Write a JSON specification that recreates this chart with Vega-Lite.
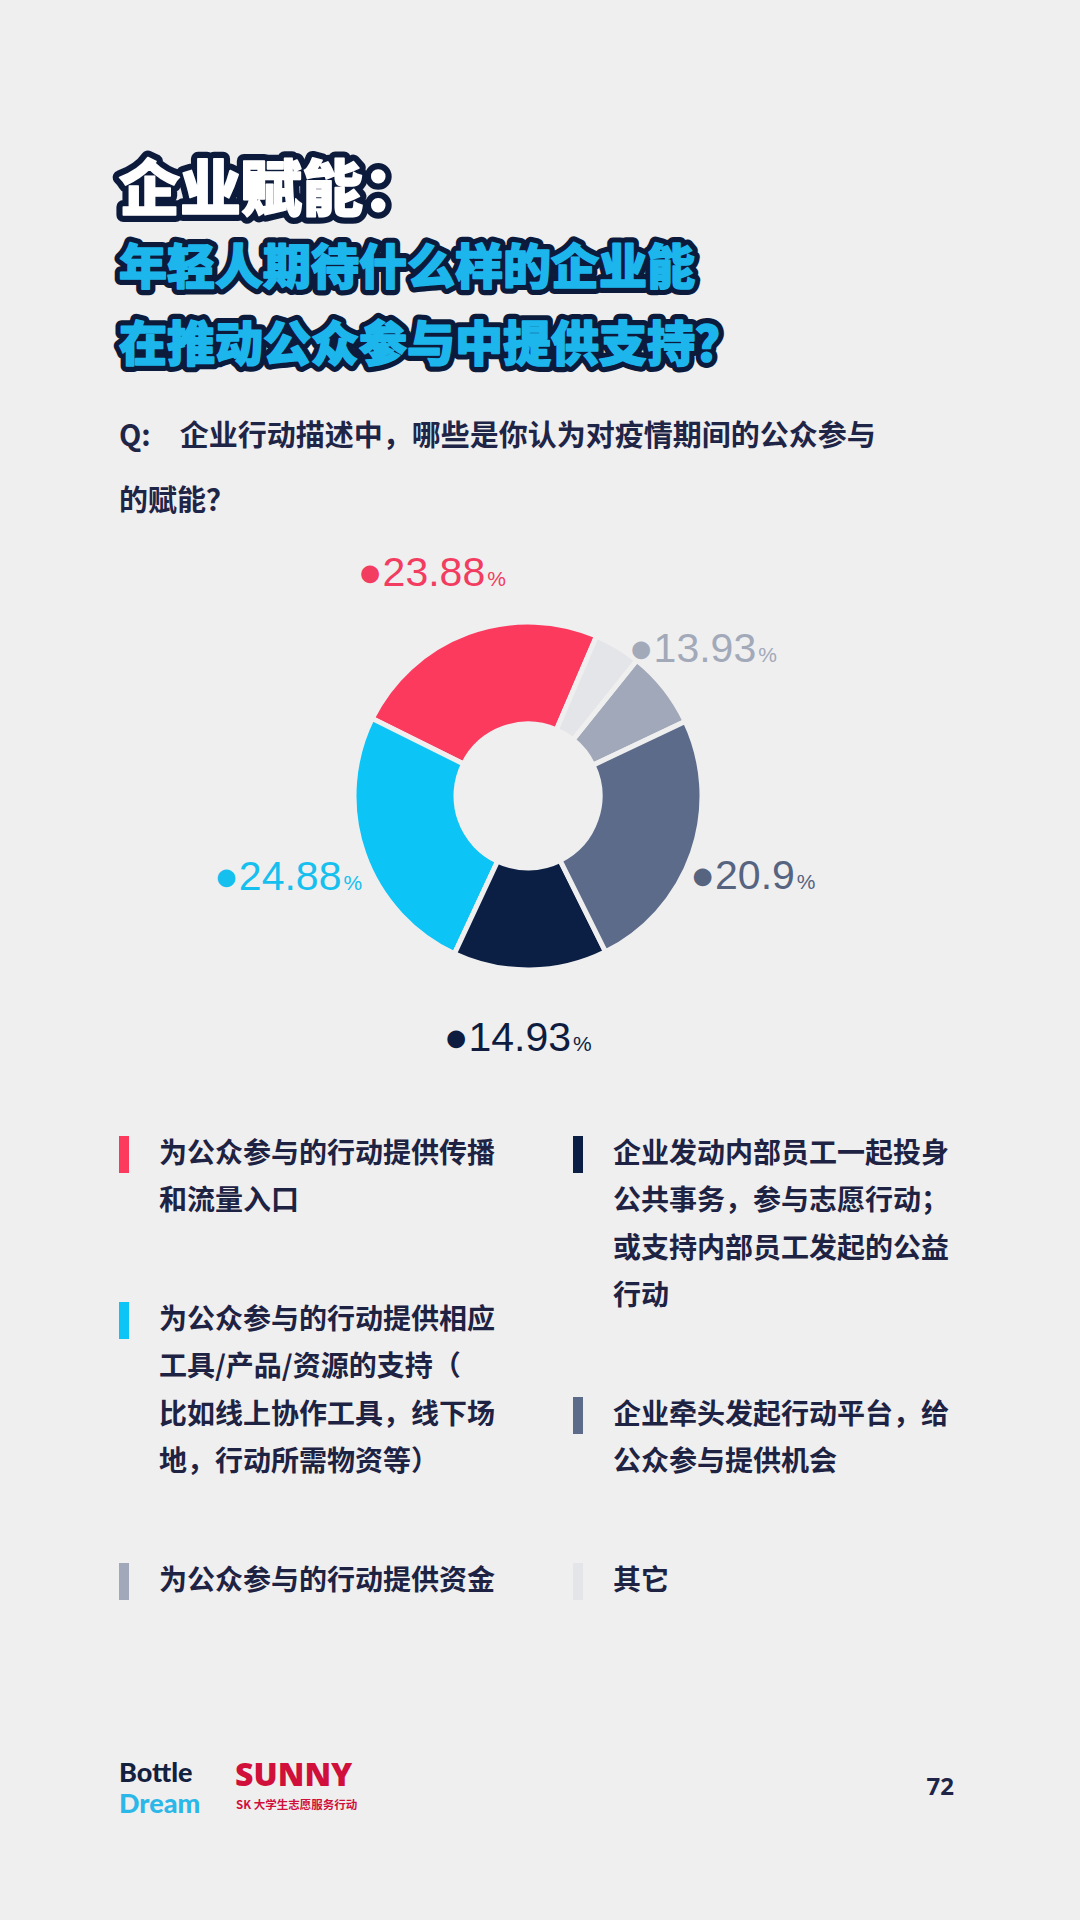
{
  "$schema": "https://vega.github.io/schema/vega-lite/v6.json",
  "width": 818,
  "height": 1592,
  "autosize": {"type": "none"},
  "padding": {"left": 119, "top": 0, "right": 143, "bottom": 328},
  "background": "#EFEFF0",
  "config": {
    "view": {"stroke": null},
    "style": {"guide-label": {"lineHeight": 47.5}},
    "locale": {"number": {"decimal": ".", "thousands": ",", "grouping": [3], "currency": ["●", ""]}}
  },
  "datasets": {
    "slices": [
      {"cat": "为公众参与的行动提供传播和流量入口", "share": 24.1, "pct": 23.88},
      {"cat": "为公众参与的行动提供相应工具/产品/资源的支持（比如线上协作工具，线下场地，行动所需物资等）", "share": 25.4, "pct": 24.88},
      {"cat": "企业发动内部员工一起投身公共事务，参与志愿行动；或支持内部员工发起的公益行动", "share": 14.3, "pct": 14.93},
      {"cat": "企业牵头发起行动平台，给公众参与提供机会", "share": 24.7, "pct": 20.9},
      {"cat": "为公众参与的行动提供资金", "share": 7.2, "pct": 13.93},
      {"cat": "其它", "share": 4.3, "pct": null}
    ],
    "headline": [
      {"line": 1, "level": "h1", "text": "企业赋能："},
      {"line": 2, "level": "h2", "text": "年轻人期待什么样的企业能"},
      {"line": 3, "level": "h2", "text": "在推动公众参与中提供支持？"}
    ],
    "question": [
      {"line": 1, "text": "Q:　企业行动描述中，哪些是你认为对疫情期间的公众参与"},
      {"line": 2, "text": "的赋能？"}
    ]
  },
  "layer": [
    {
      "data": {"name": "headline"},
      "mark": {"type": "text", "font": "Noto Sans CJK SC", "fontWeight": 900, "align": "left", "baseline": "middle", "x": 0, "fill": "#0C1B3C", "stroke": "#0C1B3C", "strokeJoin": "round"},
      "encoding": {
        "y": {"field": "line", "type": "ordinal", "scale": {"type": "point", "range": [193, 347], "padding": 0}, "axis": null},
        "text": {"field": "text"},
        "size": {"field": "level", "type": "ordinal", "scale": {"domain": ["h1", "h2"], "range": [61, 48]}, "legend": null},
        "strokeWidth": {"field": "level", "type": "ordinal", "scale": {"domain": ["h1", "h2"], "range": [14, 12]}, "legend": null}
      }
    },
    {
      "data": {"name": "headline"},
      "mark": {"type": "text", "font": "Noto Sans CJK SC", "fontWeight": 900, "align": "left", "baseline": "middle", "x": 0, "strokeWidth": 1.6, "strokeJoin": "round"},
      "encoding": {
        "y": {"field": "line", "type": "ordinal", "scale": {"type": "point", "range": [193, 347], "padding": 0}, "axis": null},
        "text": {"field": "text"},
        "size": {"field": "level", "type": "ordinal", "scale": {"domain": ["h1", "h2"], "range": [61, 48]}, "legend": null},
        "color": {"field": "level", "type": "nominal", "scale": {"domain": ["h1", "h2"], "range": ["#FFFFFF", "#1DB6EC"]}, "legend": null},
        "stroke": {"field": "level", "type": "nominal", "scale": {"domain": ["h1", "h2"], "range": ["#FFFFFF", "#1DB6EC"]}, "legend": null}
      }
    },
    {
      "data": {"name": "question"},
      "mark": {"type": "text", "font": "Noto Sans CJK SC", "fontWeight": "bold", "fontSize": 29, "align": "left", "baseline": "middle", "x": 0, "fill": "#1F2547"},
      "encoding": {
        "y": {"field": "line", "type": "ordinal", "scale": {"type": "point", "range": [437, 502], "padding": 0}, "axis": null},
        "text": {"field": "text"}
      }
    },
    {
      "data": {"name": "slices"},
      "transform": [
        {"window": [{"op": "row_number", "as": "idx"}]},
        {"stack": "share", "groupby": [], "sort": [{"field": "idx", "order": "ascending"}], "as": ["s0", "s1"]}
      ],
      "layer": [
        {
          "transform": [{"filter": {"field": "cat", "oneOf": ["为公众参与的行动提供传播和流量入口", "为公众参与的行动提供相应工具/产品/资源的支持（比如线上协作工具，线下场地，行动所需物资等）", "为公众参与的行动提供资金"]}}],
          "mark": {"type": "arc", "innerRadius": 72, "outerRadius": 174, "stroke": "#EFEFF0", "strokeWidth": 5},
          "encoding": {
            "theta": {"field": "s0", "type": "quantitative", "stack": null, "scale": {"domain": [0, 100], "range": [0.405, -5.878]}},
            "theta2": {"field": "s1"},
            "color": {
              "field": "cat", "type": "nominal", "sort": null,
              "scale": {"range": ["#FC3A5E", "#0CC4F5", "#A1A8B9"]},
              "legend": {
                "orient": "none", "legendX": 0, "legendY": 1136, "direction": "vertical", "title": null, "padding": 0,
                "symbolType": "M-1,-1H-0.46V1H-1Z", "symbolSize": 1369, "symbolStrokeWidth": 0, "symbolOpacity": 1,
                "labelFont": "Noto Sans CJK SC", "labelFontSize": 28, "labelFontWeight": "bold", "labelColor": "#1E2343",
                "labelLimit": 600, "labelOffset": 3, "labelBaseline": "middle", "rowPadding": 86,
                "labelExpr": "length(datum.label) > 36 ? [substring(datum.label,0,12), substring(datum.label,12,24), substring(datum.label,24,36), substring(datum.label,36)] : length(datum.label) > 24 ? [substring(datum.label,0,12), substring(datum.label,12,24), substring(datum.label,24)] : length(datum.label) > 12 ? [substring(datum.label,0,12), substring(datum.label,12)] : datum.label"
              }
            }
          }
        },
        {
          "transform": [{"filter": {"field": "cat", "oneOf": ["企业发动内部员工一起投身公共事务，参与志愿行动；或支持内部员工发起的公益行动", "企业牵头发起行动平台，给公众参与提供机会", "其它"]}}],
          "mark": {"type": "arc", "innerRadius": 72, "outerRadius": 174, "stroke": "#EFEFF0", "strokeWidth": 5},
          "encoding": {
            "theta": {"field": "s0", "type": "quantitative", "stack": null, "scale": {"domain": [0, 100], "range": [0.405, -5.878]}},
            "theta2": {"field": "s1"},
            "color": {
              "field": "cat", "type": "nominal", "sort": null,
              "scale": {"range": ["#0B1F45", "#5B6B89", "#E4E5E8"]},
              "legend": {
                "orient": "none", "legendX": 454, "legendY": 1136, "direction": "vertical", "title": null, "padding": 0,
                "symbolType": "M-1,-1H-0.46V1H-1Z", "symbolSize": 1369, "symbolStrokeWidth": 0, "symbolOpacity": 1,
                "labelFont": "Noto Sans CJK SC", "labelFontSize": 28, "labelFontWeight": "bold", "labelColor": "#1E2343",
                "labelLimit": 600, "labelOffset": 3, "labelBaseline": "middle", "rowPadding": 86,
                "labelExpr": "length(datum.label) > 36 ? [substring(datum.label,0,12), substring(datum.label,12,24), substring(datum.label,24,36), substring(datum.label,36)] : length(datum.label) > 24 ? [substring(datum.label,0,12), substring(datum.label,12,24), substring(datum.label,24)] : length(datum.label) > 12 ? [substring(datum.label,0,12), substring(datum.label,12)] : datum.label"
              }
            }
          }
        },
        {
          "transform": [{"filter": "isValid(datum.pct)"}],
          "mark": {"type": "text", "radius": 240, "font": "Liberation Sans, Roboto, sans-serif", "fontSize": 41, "align": "right", "baseline": "alphabetic", "dx": 40, "dy": 15},
          "encoding": {
            "theta": {"field": "share", "type": "quantitative", "stack": true, "scale": {"domain": [0, 100], "range": [0.405, -5.878]}},
            "order": {"field": "idx", "type": "quantitative"},
            "color": {"field": "cat", "type": "nominal", "sort": null, "scale": {"range": ["#F23C60", "#15BFEE", "#0E1D3F", "#56647F", "#A2A9B9"]}, "legend": null},
            "text": {"field": "pct", "type": "quantitative", "format": "$.4~r"}
          }
        },
        {
          "transform": [{"filter": "isValid(datum.pct)"}],
          "mark": {"type": "text", "radius": 240, "font": "Liberation Sans, Roboto, sans-serif", "fontSize": 21, "align": "left", "baseline": "alphabetic", "dx": 42, "dy": 15, "text": "%"},
          "encoding": {
            "theta": {"field": "share", "type": "quantitative", "stack": true, "scale": {"domain": [0, 100], "range": [0.405, -5.878]}},
            "order": {"field": "idx", "type": "quantitative"},
            "color": {"field": "cat", "type": "nominal", "sort": null, "scale": {"range": ["#F23C60", "#15BFEE", "#0E1D3F", "#56647F", "#A2A9B9"]}, "legend": null}
          }
        }
      ],
      "resolve": {"scale": {"color": "independent"}, "legend": {"color": "independent"}}
    },
    {
      "data": {"values": [{"text": "Bottle"}]},
      "mark": {"type": "text", "font": "Lato", "fontWeight": 900, "fontSize": 27, "align": "left", "baseline": "middle", "x": 0, "y": 1774, "fill": "#13213F"},
      "encoding": {"text": {"field": "text"}}
    },
    {
      "data": {"values": [{"text": "Dream"}]},
      "mark": {"type": "text", "font": "Lato", "fontWeight": 900, "fontSize": 27, "align": "left", "baseline": "middle", "x": 0, "y": 1805, "fill": "#2BB8E8"},
      "encoding": {"text": {"field": "text"}}
    },
    {
      "data": {"values": [{"text": "SUNNY"}]},
      "mark": {"type": "text", "font": "Open Sans", "fontWeight": 800, "fontSize": 32, "align": "left", "baseline": "middle", "x": 116, "y": 1776, "fill": "#D0103A"},
      "encoding": {"text": {"field": "text"}}
    },
    {
      "data": {"values": [{"text": "SK 大学生志愿服务行动"}]},
      "mark": {"type": "text", "font": "Noto Sans CJK SC", "fontWeight": "bold", "fontSize": 11.5, "align": "left", "baseline": "middle", "x": 117, "y": 1806, "fill": "#D0103A"},
      "encoding": {"text": {"field": "text"}}
    },
    {
      "data": {"values": [{"text": "72"}]},
      "mark": {"type": "text", "font": "Open Sans", "fontWeight": "bold", "fontSize": 24, "align": "right", "baseline": "middle", "x": 835, "y": 1788, "fill": "#1F2547"},
      "encoding": {"text": {"field": "text"}}
    }
  ],
  "resolve": {"scale": {"color": "independent", "y": "independent", "size": "independent", "strokeWidth": "independent", "stroke": "independent"}}
}
